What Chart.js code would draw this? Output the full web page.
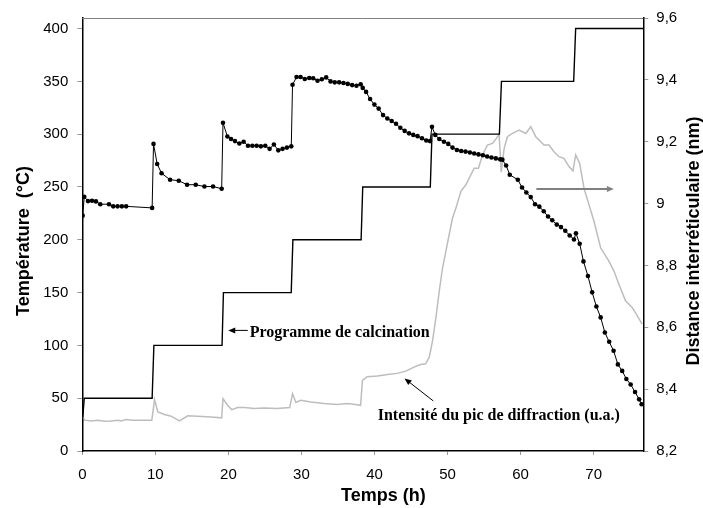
<!DOCTYPE html>
<html>
<head>
<meta charset="utf-8">
<title>Calcination</title>
<script src="https://cdn.jsdelivr.net/npm/chart.js@4"></script>
<style>
  html, body { margin: 0; padding: 0; background: #fff; }
  canvas { display: block; }
</style>
</head>
<body>
<canvas id="chart" width="703" height="508"></canvas>
<script>
'use strict';

const timeTicks = [0, 10, 20, 30, 40, 50, 60, 70];
const tempTicks = [0, 50, 100, 150, 200, 250, 300, 350, 400];
const distTicks = [8.2, 8.4, 8.6, 8.8, 9.0, 9.2, 9.4, 9.6];

// programme de calcination (°C)
const progTime = [0, 0.27, 9.56, 9.8, 19.13, 19.32, 28.6, 28.83, 38.17, 38.39, 47.64, 47.87, 57.1, 57.38, 67.27, 67.54, 76.8];
const progTemp = [27, 50, 50, 100, 100, 150, 150, 200, 200, 250, 250, 300, 300, 350, 350, 400, 400];

// distance interréticulaire (nm)
const distTime = [
  0.05, 0.27, 0.78, 1.33, 1.87, 2.46, 3.65, 4.24, 4.83, 5.42, 6.01, 9.56,
  9.75, 10.25, 10.85, 12.02, 13.21, 14.34, 15.53, 16.72, 17.9, 19.08,
  19.26, 19.86, 20.36, 20.9, 21.5, 22.09, 22.68, 23.28, 23.87, 24.45, 25.05, 25.64, 26.23, 26.83, 27.42, 28.01, 28.61,
  28.78, 29.33, 29.88, 30.46, 31.07, 31.61, 32.2, 32.79, 33.39, 33.98, 34.56, 35.16, 35.75, 36.34, 36.94, 37.53, 38.11,
  38.39, 38.85, 39.4, 39.99, 40.57, 41.17, 41.76, 42.35, 42.95, 43.54, 44.13, 44.73, 45.31, 45.9, 46.5, 47.09, 47.6,
  47.87, 48.32, 48.87, 49.51, 50.1, 50.68, 51.28, 51.87, 52.46, 53.06, 53.65, 54.24, 54.84, 55.42, 56.01, 56.61, 57.2, 57.51,
  58.02, 58.52, 59.62, 60.2, 60.79, 61.39, 61.98, 62.57, 63.17, 63.76, 64.34, 64.95, 65.53, 66.12, 66.72, 67.31, 67.58,
  68.09, 68.61, 69.22, 69.8, 70.38, 70.96, 71.54, 72.13, 72.73, 73.32, 73.91, 74.48, 75.07, 75.67, 76.23, 76.57
];
const distValue = [
  8.961, 9.022, 9.008, 9.009, 9.007, 8.998, 8.998, 8.991, 8.991, 8.991, 8.991, 8.986,
  9.193, 9.128, 9.098, 9.077, 9.074, 9.061, 9.061, 9.055, 9.055, 9.048,
  9.261, 9.217, 9.209, 9.202, 9.194, 9.2, 9.187, 9.187, 9.187, 9.185, 9.187, 9.177, 9.191, 9.172, 9.177, 9.181, 9.185,
  9.384, 9.409, 9.409, 9.403, 9.406, 9.405, 9.397, 9.402, 9.408, 9.395, 9.392, 9.392, 9.39, 9.387, 9.383, 9.381, 9.386,
  9.374, 9.361, 9.338, 9.32, 9.307, 9.286, 9.275, 9.267, 9.258, 9.245, 9.235, 9.227, 9.222, 9.218, 9.211, 9.204, 9.202,
  9.248, 9.222, 9.209, 9.2, 9.193, 9.181, 9.173, 9.17, 9.168, 9.165, 9.162, 9.159, 9.156, 9.152, 9.149, 9.146, 9.143, 9.142,
  9.123, 9.093, 9.077, 9.052, 9.036, 9.021, 8.998, 8.99, 8.975, 8.958, 8.946, 8.932, 8.924, 8.912, 8.897, 8.884, 8.904,
  8.87, 8.813, 8.766, 8.713, 8.667, 8.632, 8.583, 8.553, 8.524, 8.48, 8.459, 8.433, 8.415, 8.391, 8.367, 8.351
];

const intTime = [
  0.05, 0.3, 1.2, 2.1, 3.0, 3.9, 4.9, 5.3, 6.0, 6.9, 7.8, 9.52,
  9.89, 10.34, 11.26, 12.16, 13.3, 14.44, 15.8, 17.6, 19.08,
  19.26, 19.9, 20.45, 21.27, 22.2, 23.55, 24.9, 26.7, 28.4,
  28.78, 29.24, 29.9, 31.3, 33.1, 34.9, 36.3, 37.4, 38.1,
  38.35, 39.0, 40.4, 41.8, 43.1, 44.3, 45.4, 46.3, 47.0, 47.5,
  47.95, 48.42, 48.87, 49.32, 49.78, 50.23, 50.68, 51.15, 51.83, 52.51, 52.96, 53.65, 54.24, 54.78, 55.46, 56.15, 56.69, 57.06,
  57.35, 57.75, 58.2, 58.88, 59.8, 60.71, 61.39, 62.08, 63.21, 63.89, 64.57, 65.26, 65.94, 66.62, 67.17,
  67.54, 68.09, 68.68, 69.36, 70.05, 70.96, 72.09, 72.78, 73.46, 74.37, 75.27, 75.96, 76.64
];
const intValue = [
  32.3, 29.2, 28.5, 29.2, 28.2, 28.5, 29.2, 28.5, 29.8, 29.2, 29.2, 29.2,
  48.7, 37.0, 34.5, 33.0, 28.5, 33.3, 33.0, 32.3, 31.4,
  49.6, 43.3, 39.2, 41.1, 41.1, 40.2, 40.8, 40.2, 41.1,
  54.3, 45.9, 48.0, 46.4, 44.9, 44.0, 44.9, 44.0, 43.3,
  66.9, 70.4, 71.0, 72.5, 73.5, 75.6, 79.4, 81.9, 82.6, 88.8,
  104.5, 126.5, 151.6, 173.5, 189.3, 205.0, 220.6, 230.0, 245.8, 252.1, 258.3, 267.7, 267.7, 280.3, 289.7, 291.2, 296.0, 300.0,
  264.0, 286.5, 297.6, 300.7, 303.9, 300.7, 307.0, 297.6, 289.7, 289.7, 283.4, 278.7, 277.1, 269.3, 265.3,
  280.3, 272.4, 248.9, 233.2, 217.5, 192.4, 179.8, 170.4, 157.9, 142.2, 135.9, 128.1, 120.2
];

function pts(xs, ys) {
  return xs.map((x, i) => ({x: x, y: ys[i]}));
}

function commaLabel(v) {
  return (Math.round(v * 10) / 10).toString().replace('.', ',');
}

const sansTick = {family: '"Liberation Sans", Arial, sans-serif', size: 15};
const sansTitle = 'bold 18px "Liberation Sans", Arial, sans-serif';
const serifNote = 'bold 16px "Liberation Serif", "Times New Roman", serif';

function arrow(c, x1, y1, x2, y2, color, width) {
  const ang = Math.atan2(y2 - y1, x2 - x1);
  const len = 7, half = 3;
  c.strokeStyle = color;
  c.fillStyle = color;
  c.lineWidth = width;
  c.beginPath();
  c.moveTo(x1, y1);
  c.lineTo(x2 - Math.cos(ang) * len * 0.8, y2 - Math.sin(ang) * len * 0.8);
  c.stroke();
  c.beginPath();
  c.moveTo(x2, y2);
  c.lineTo(x2 - Math.cos(ang) * len - Math.sin(ang) * half, y2 - Math.sin(ang) * len + Math.cos(ang) * half);
  c.lineTo(x2 - Math.cos(ang) * len + Math.sin(ang) * half, y2 - Math.sin(ang) * len - Math.cos(ang) * half);
  c.closePath();
  c.fill();
}

function vtext(c, txt, x, y) {
  c.save();
  c.translate(x, y);
  c.rotate(-Math.PI / 2);
  c.fillText(txt, 0, 0);
  c.restore();
}

// frame top line, axis titles and the notes with their arrows
const extras = {
  id: 'extras',
  afterDraw(chart) {
    const c = chart.ctx;
    const a = chart.chartArea;
    const sx = chart.scales.x, sy = chart.scales.y, sy2 = chart.scales.y2;
    c.save();
    c.strokeStyle = '#808080';
    c.lineWidth = 1;
    c.beginPath();
    c.moveTo(a.left, a.top + 0.5);
    c.lineTo(a.right, a.top + 0.5);
    c.stroke();

    c.fillStyle = '#000';
    c.font = sansTitle;
    c.textAlign = 'center';
    c.textBaseline = 'middle';
    c.fillText('Temps (h)', a.left + 301, a.bottom + 45.5);
    vtext(c, 'Température  (°C)', 24.5, a.top + 223);
    vtext(c, 'Distance interréticulaire (nm)', a.right + 51, a.top + 223);

    c.font = serifNote;
    c.textAlign = 'left';
    c.textBaseline = 'alphabetic';
    c.fillText('Programme de calcination', sx.getPixelForValue(22.91), sy.getPixelForValue(108.3));
    arrow(c, sx.getPixelForValue(22.65), sy.getPixelForValue(114.2),
      sx.getPixelForValue(19.98), sy.getPixelForValue(114.2), '#000', 1);
    c.fillStyle = '#000';
    c.fillText('Intensité du pic de diffraction (u.a.)', sx.getPixelForValue(40.44), sy.getPixelForValue(29.2));
    arrow(c, sx.getPixelForValue(48.05), sy.getPixelForValue(47.4),
      sx.getPixelForValue(44.11), sy.getPixelForValue(68.7), '#000', 1);
    arrow(c, sx.getPixelForValue(62.16), sy2.getPixelForValue(9.047),
      sx.getPixelForValue(72.77), sy2.getPixelForValue(9.047), '#808080', 2);
    c.restore();
  }
};

new Chart(document.getElementById('chart'), {
  type: 'line',
  data: {
    datasets: [
      {
        label: 'Distance interréticulaire',
        data: pts(distTime, distValue),
        yAxisID: 'y2',
        borderColor: '#000',
        borderWidth: 1,
        pointRadius: 2.3,
        pointBackgroundColor: '#000',
        pointBorderWidth: 0,
        tension: 0
      },
      {
        label: 'Programme de calcination',
        data: pts(progTime, progTemp),
        yAxisID: 'y',
        borderColor: '#000',
        borderWidth: 1.4,
        pointRadius: 0,
        tension: 0
      },
      {
        label: 'Intensité du pic de diffraction',
        data: pts(intTime, intValue),
        yAxisID: 'y',
        borderColor: '#bdbdbd',
        borderWidth: 1.5,
        pointRadius: 0,
        tension: 0
      }
    ]
  },
  options: {
    responsive: false,
    animation: false,
    devicePixelRatio: 1,
    layout: {padding: {top: 15.7, left: 0, right: 0, bottom: 0}},
    plugins: {legend: {display: false}, tooltip: {enabled: false}},
    scales: {
      x: {
        type: 'linear',
        position: 'bottom',
        min: 0,
        max: 76.8,
        afterBuildTicks: s => { s.ticks = timeTicks.map(v => ({value: v})); },
        afterFit: s => { s.height = 57; },
        ticks: {font: sansTick, color: '#000', padding: 11, maxRotation: 0},
        grid: {drawOnChartArea: false, tickLength: 4, tickColor: '#999'},
        border: {color: '#000', width: 1.5}
      },
      y: {
        type: 'linear',
        position: 'left',
        min: 0,
        max: 410,
        afterBuildTicks: s => { s.ticks = tempTicks.map(v => ({value: v})); },
        afterFit: s => { s.width = 82.3; },
        ticks: {font: sansTick, color: '#000', padding: 9},
        grid: {drawOnChartArea: false, tickLength: 5, tickColor: '#999'},
        border: {color: '#000', width: 1.5}
      },
      y2: {
        type: 'linear',
        position: 'right',
        min: 8.2,
        max: 9.6,
        afterBuildTicks: s => { s.ticks = distTicks.map(v => ({value: v})); },
        afterFit: s => { s.width = 59.7; },
        ticks: {font: sansTick, color: '#000', padding: 8, callback: v => commaLabel(v)},
        grid: {drawOnChartArea: false, tickLength: 5, tickColor: '#999'},
        border: {color: '#000', width: 1.5}
      }
    }
  },
  plugins: [extras]
});
</script>
</body>
</html>
